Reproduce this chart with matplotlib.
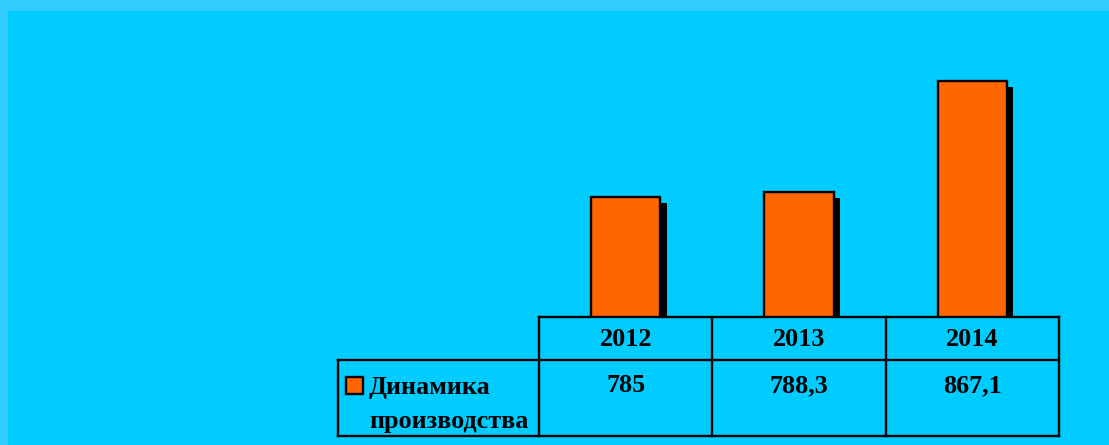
import matplotlib
matplotlib.use("Agg")
import matplotlib.pyplot as plt
from matplotlib.patches import Rectangle
from matplotlib.lines import Line2D
import matplotlib.patheffects as pe

# ---- data ----
years = ["2012", "2013", "2014"]
values = [785, 788.3, 867.1]
value_labels = ["785", "788,3", "867,1"]
series_name = "Динамика\nпроизводства"

W, H = 1109, 445
fig = plt.figure(figsize=(W / 100, H / 100), dpi=100)
fig.patch.set_facecolor("#33CCFF")
fig.add_artist(Rectangle((8 / W, 0), 1 - 8 / W, (H - 11) / H,
                         transform=fig.transFigure, facecolor="#00CCFF",
                         edgecolor="none", zorder=0))

FONT = "Liberation Serif"
ORANGE = "#FF6600"
FS = 18.8

# plot area (pixel layout)
px_l, px_r, px_top, px_bot = 539, 1059, 34, 317
ax = fig.add_axes([px_l / W, (H - px_bot) / H, (px_r - px_l) / W, (px_bot - px_top) / H])
ax.set_facecolor("none")
ax.set_xlim(-0.5, len(years) - 0.5)
ax.set_ylim(700, 900)
ax.axis("off")
x = list(range(len(years)))
bars = ax.bar(x, values, width=0.40, color=ORANGE, edgecolor="black", linewidth=1.7)
for b in bars:
    b.set_path_effects([pe.SimplePatchShadow(offset=(4.5, -4.5), shadow_rgbFace="black", alpha=1.0),
                        pe.Normal()])

# table in pixel coordinates
tax = fig.add_axes([0, 0, 1, 1])
tax.set_xlim(0, W)
tax.set_ylim(H, 0)
tax.axis("off")
tax.set_facecolor("none")

row1_top, row1_bot, row2_bot = 317, 360, 436
leg_left = 338
lw = 1.7
ncol = len(years)
colw = (px_r - px_l) / ncol
col_edges = [px_l + i * colw for i in range(ncol + 1)]

def seg(x0, y0, x1, y1):
    tax.add_line(Line2D([x0, x1], [y0, y1], color="black", linewidth=lw, solid_capstyle="projecting"))

seg(px_l, row1_top, px_r, row1_top)
seg(leg_left, row1_bot, px_r, row1_bot)
seg(leg_left, row2_bot, px_r, row2_bot)
seg(leg_left, row1_bot, leg_left, row2_bot)
for i, xe in enumerate(col_edges):
    seg(xe, row1_top, xe, row2_bot)

for i in range(ncol):
    cx = (col_edges[i] + col_edges[i + 1]) / 2
    tax.text(cx, (row1_top + row1_bot) / 2 + 1, years[i], ha="center", va="center",
             fontsize=FS, fontweight="bold", family=FONT)
    tax.text(cx, 392, value_labels[i], ha="center", va="baseline",
             fontsize=FS, fontweight="bold", family=FONT)

tax.add_patch(Rectangle((346, 377), 17, 17, facecolor=ORANGE, edgecolor="black", linewidth=1.7))
name_lines = series_name.split("\n")
tax.text(369, 394, name_lines[0], ha="left", va="baseline", fontsize=FS, fontweight="bold", family=FONT)
tax.text(369, 428, name_lines[1], ha="left", va="baseline", fontsize=FS, fontweight="bold", family=FONT)

fig.savefig("out.png", dpi=100, facecolor=fig.get_facecolor())
